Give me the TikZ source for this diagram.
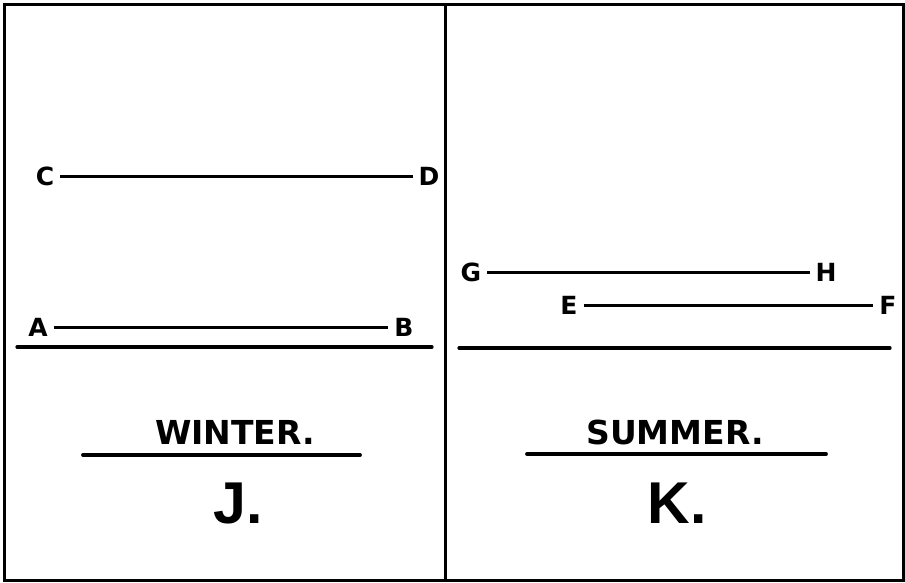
\documentclass[tikz,border=0pt]{standalone}
\usepackage{fontspec}
\setmainfont{DejaVu Sans}
\newfontfamily\bigfont{Liberation Sans}
\begin{document}
\begin{tikzpicture}[x=1pt,y=-1pt,
  lbl/.style={font=\fontsize{25}{25}\selectfont\bfseries, inner sep=0pt, outer sep=6pt},
  ttl/.style={font=\fontsize{33}{33}\selectfont\bfseries, inner sep=0pt},
  big/.style={font=\bigfont\fontsize{59}{59}\selectfont\bfseries, inner sep=0pt, anchor=base},
  seg/.style={line width=3pt},
  frame/.style={line width=3pt},
  rule/.style={line width=3.2pt, line cap=round}]
\useasboundingbox (0,0) rectangle (905,583);
% frame
\draw[frame] (4,5) rectangle (903,580);
\draw[frame] (445,5) -- (445,580);
% winter panel
\node[lbl] (C) at (45,176) {C};
\node[lbl] (D) at (429,176) {D};
\draw[seg] (C) -- (D);
\node[lbl] (A) at (38,327) {A};
\node[lbl] (B) at (404,327) {B};
\draw[seg] (A) -- (B);
\coordinate (wl1) at (17,347);
\coordinate (wl2) at (432,347);
\draw[rule] (wl1) -- (wl2);
\node[ttl] (win) at (235,432) {WINTER.};
\coordinate (wu1) at (83,455);
\coordinate (wu2) at (360,455);
\draw[rule, line width=3.8pt] (wu1) -- (wu2);
\node[big] (J) at (238,523) {J.};
% summer panel
\node[lbl] (G) at (471,272) {G};
\node[lbl] (H) at (826,272) {H};
\draw[seg] (G) -- (H);
\node[lbl] (E) at (569,305) {E};
\node[lbl] (F) at (888,305) {F};
\draw[seg] (E) -- (F);
\coordinate (sl1) at (459,348);
\coordinate (sl2) at (890,348);
\draw[rule] (sl1) -- (sl2);
\node[ttl] (sum) at (675,432) {SUMMER.};
\coordinate (su1) at (527,454);
\coordinate (su2) at (826,454);
\draw[rule, line width=3.8pt] (su1) -- (su2);
\node[big] (K) at (677,523) {K.};
\end{tikzpicture}
\end{document}
